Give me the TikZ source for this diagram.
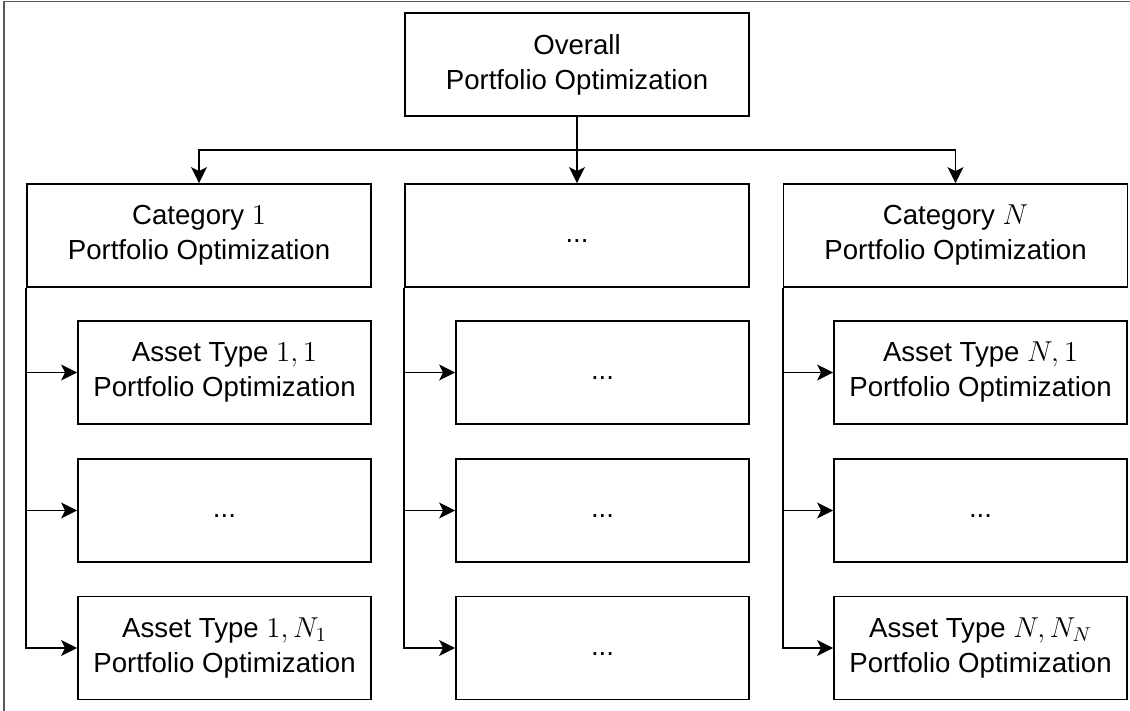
\documentclass[tikz,border=0pt]{standalone}
\usepackage[no-math]{fontspec}
\setmainfont{Liberation Sans}
\usetikzlibrary{arrows.meta}
\begin{document}
\begin{tikzpicture}[x=0.5pt, y=-0.5pt,
	font=\fontsize{13.8}{17.5}\selectfont,
	box/.style={draw, line width=0.9pt, align=center, inner sep=0pt, minimum height=51.5pt},
	catbox/.style={box, minimum width=172pt},
	subbox/.style={box, minimum width=146.5pt},
	arr/.style={-{Stealth[length=8pt, width=8pt, inset=2pt]}, line width=0.9pt}]
	\useasboundingbox (0, 0) rectangle (1130, 711);
	\draw[black!65, line width=0.6pt] (4, 1.5) rectangle (1140, 720);
	\node[catbox] (top) at (577, 64.5) {Overall\\Portfolio Optimization};
	\node[catbox] (cat1) at (199, 235.5) {Category $1$\\Portfolio Optimization};
	\node[catbox] (cat2) at (577, 235.5) {\strut...};
	\node[catbox] (catN) at (955.5, 235.5) {Category $N$\\Portfolio Optimization};
	\node[subbox] (sub11) at (224.5, 372.5) {Asset Type $1,1$\\Portfolio Optimization};
	\node[subbox] (sub12) at (224.5, 510.5) {\strut...};
	\node[subbox] (sub13) at (224.5, 648) {Asset Type $1,N_1$\\Portfolio Optimization};
	\node[subbox] (sub21) at (602.5, 372.5) {\strut...};
	\node[subbox] (sub22) at (602.5, 510.5) {\strut...};
	\node[subbox] (sub23) at (602.5, 648) {\strut...};
	\node[subbox] (subN1) at (980.5, 372.5) {Asset Type $N,1$\\Portfolio Optimization};
	\node[subbox] (subN2) at (980.5, 510.5) {\strut...};
	\node[subbox] (subN3) at (980.5, 648) {Asset Type $N,N_N$\\Portfolio Optimization};
	\coordinate (bus) at (577, 150);
	\draw[arr] (top.south) -- (cat2.north);
	\draw[arr] (bus) -| (cat1.north);
	\draw[arr] (bus) -| (catN.north);
	\foreach \c in {1, 2, N} {
		\foreach \s in {1, 2, 3} {
			\draw[arr] (cat\c.south west) |- (sub\c\s.west);
		}
	}
\end{tikzpicture}
\end{document}
